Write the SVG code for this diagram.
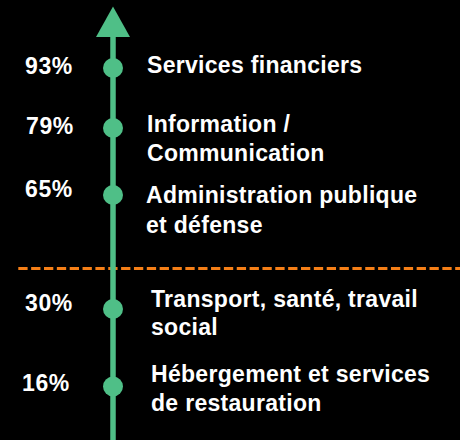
<svg xmlns="http://www.w3.org/2000/svg" width="460" height="440" viewBox="0 0 460 440">
<style>
text{font-family:"Liberation Sans",Arial,sans-serif;font-weight:bold;font-size:23px;fill:#ffffff;letter-spacing:0.3px}
.pct{font-size:23px;letter-spacing:0.6px}
.dot{fill:#4fbf87}
</style>
<rect width="460" height="440" fill="#000000"/>
<g id="connectors">
<line x1="18.3" y1="268.5" x2="460" y2="268.5" stroke="#f57f17" stroke-width="3" stroke-dasharray="9.3 3.55"/>
<line x1="113" y1="30" x2="113" y2="440" stroke="#4fbf87" stroke-width="5.5"/>
<polygon points="113,6.5 96,37 130,37" fill="#4fbf87"/>
</g>
<g id="n93">
<circle class="dot" cx="113" cy="68" r="10"/>
<text class="pct" x="25" y="74">93%</text>
<text x="147" y="73">Services financiers</text>
</g>
<g id="n79">
<circle class="dot" cx="113" cy="128" r="10"/>
<text class="pct" x="26" y="133.5">79%</text>
<text x="147" y="131.5">Information /</text>
<text x="147" y="160.5">Communication</text>
</g>
<g id="n65">
<circle class="dot" cx="113" cy="195" r="10"/>
<text class="pct" x="25" y="196.5">65%</text>
<text x="146" y="203">Administration publique</text>
<text x="146" y="232.5">et défense</text>
</g>
<g id="n30">
<circle class="dot" cx="113" cy="309" r="10"/>
<text class="pct" x="25" y="310.5">30%</text>
<text x="151" y="306.5">Transport, santé, travail</text>
<text x="151" y="335">social</text>
</g>
<g id="n16">
<circle class="dot" cx="113" cy="386.5" r="10"/>
<text class="pct" x="22" y="390.5">16%</text>
<text x="151" y="381.5">Hébergement et services</text>
<text x="151" y="410.5">de restauration</text>
</g>
</svg>
